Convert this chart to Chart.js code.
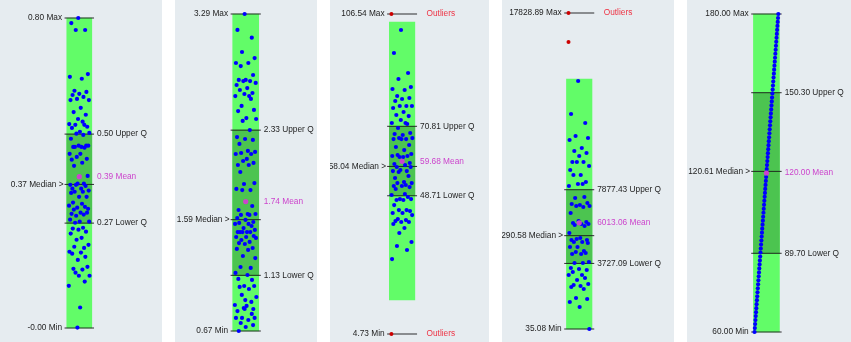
<!DOCTYPE html>
<html>
<head>
<meta charset="utf-8">
<script src="https://cdn.jsdelivr.net/npm/chart.js@4/dist/chart.umd.min.js"></script>
<style>
    body { margin: 0; background: #ffffff; }
    #row { position: relative; width: 851px; height: 342px; overflow: hidden; }
    .panel { position: absolute; top: 0; height: 342px; background: #e6ecf0; }
    .panel canvas { display: block; }
</style>
</head>
<body>
<div id="row"></div>
<script>
// Summary values of the five distributions
const maxValues    = [0.80, 3.29, 106.54, 17828.89, 180.00];
const upperQValues = [0.50, 2.33, 70.81, 7877.43, 150.30];
const medianValues = [0.37, 1.59, 58.04, 5290.58, 120.61];
const lowerQValues = [0.27, 1.13, 48.71, 3727.09, 89.70];
const minValues    = [-0.001, 0.67, 4.73, 35.08, 60.00];
const meanValues   = [0.39, 1.74, 59.68, 6013.06, 120.00];
const outlierValues = [[], [], [106.54, 4.73], [17828.89, 16196], []];

const valuesA = [0.80, 0.787, 0.769, 0.769, 0.655, 0.648, 0.643, 0.612, 0.609, 0.604, 0.601, 0.596, 0.591, 0.588, 0.588,
    0.568, 0.557, 0.550, 0.539, 0.532, 0.526, 0.524, 0.524, 0.519, 0.516, 0.506, 0.503, 0.501, 0.498, 0.488,
    0.470, 0.470, 0.467, 0.467, 0.470, 0.467, 0.465, 0.449, 0.449, 0.441, 0.436, 0.434, 0.426, 0.418, 0.392,
    0.372, 0.369, 0.372, 0.369, 0.366, 0.359, 0.359, 0.354, 0.351, 0.351, 0.348, 0.338, 0.338, 0.323, 0.320,
    0.315, 0.312, 0.310, 0.307, 0.305, 0.297, 0.294, 0.292, 0.289, 0.297, 0.279, 0.274, 0.274, 0.271, 0.258,
    0.256, 0.253, 0.248, 0.243, 0.232, 0.227, 0.214, 0.209, 0.206, 0.196, 0.194, 0.191, 0.183, 0.175, 0.157,
    0.152, 0.150, 0.142, 0.134, 0.134, 0.119, 0.108, 0.052, 0.00];
const valuesB = [3.29, 3.158, 3.094, 2.976, 2.926, 2.885, 2.885, 2.860, 2.786, 2.745, 2.745, 2.736, 2.736, 2.720, 2.703,
    2.678, 2.662, 2.637, 2.629, 2.612, 2.612, 2.588, 2.530, 2.497, 2.488, 2.430, 2.422, 2.406, 2.331, 2.273,
    2.257, 2.249, 2.216, 2.158, 2.150, 2.141, 2.133, 2.133, 2.092, 2.075, 2.059, 2.042, 2.042, 1.984, 1.893,
    1.885, 1.844, 1.835, 1.835, 1.703, 1.670, 1.637, 1.637, 1.629, 1.629, 1.604, 1.588, 1.571, 1.563, 1.555,
    1.555, 1.538, 1.521, 1.505, 1.488, 1.488, 1.488, 1.488, 1.488, 1.455, 1.447, 1.447, 1.439, 1.422, 1.406,
    1.397, 1.389, 1.356, 1.348, 1.340, 1.290, 1.273, 1.199, 1.191, 1.150, 1.133, 1.100, 1.092, 1.042, 1.042,
    1.034, 1.017, 0.968, 0.951, 0.926, 0.910, 0.885, 0.877, 0.860, 0.852, 0.852, 0.835, 0.811, 0.778, 0.778,
    0.778, 0.761, 0.736, 0.719, 0.703, 0.67];
const valuesC = [101.45, 94.13, 87.77, 85.86, 83.31, 82.68, 82.36, 80.45, 79.81, 79.49, 78.86, 77.27, 77.27, 77.27, 76.63,
    75.36, 74.40, 74.08, 72.81, 71.86, 71.86, 71.54, 70.27, 68.68, 68.36, 68.04, 67.08, 67.08, 66.76, 66.76,
    66.76, 64.86, 64.22, 63.26, 62.00, 61.68, 61.36, 61.36, 61.04, 61.04, 59.13, 58.81, 58.49, 57.86, 57.86,
    56.90, 56.58, 56.58, 56.27, 55.00, 54.36, 53.08, 52.76, 52.76, 52.13, 51.81, 51.81, 51.49, 50.86, 49.27,
    48.95, 48.31, 47.67, 47.67, 47.36, 47.36, 45.76, 44.17, 44.17, 43.85, 43.22, 43.22, 42.58, 41.31, 40.99,
    40.67, 40.36, 40.36, 39.72, 38.45, 36.86, 34.00, 32.72, 31.45, 28.58];
const valuesD = [14000, 12141, 11635, 10902, 10790, 10677, 10227, 10058, 9945, 9776, 9438, 9438, 9438, 9214, 8988,
    8707, 8707, 8312, 8200, 8200, 8087, 7468, 7411, 7130, 7073, 7017, 6961, 6961, 6905, 6567,
    6116, 6060, 6004, 5948, 5948, 5891, 5835, 5441, 5159, 5103, 5046, 5046, 4934, 4934, 4877,
    4652, 4652, 4427, 4371, 4314, 4258, 4258, 3808, 3752, 3752, 3469, 3413, 3357, 3244, 3075,
    3075, 2906, 2793, 2568, 2512, 2456, 2399, 2287, 1780, 1724, 1555, 1274, 35.08];
const valuesE = [60.0, 61.5, 63.0, 64.5, 66.0, 67.5, 69.0, 70.5, 72.0, 73.5, 75.0, 76.5, 78.0, 79.5, 81.0, 82.5,
    84.0, 85.5, 87.0, 88.5, 90.0, 91.5, 93.0, 94.5, 96.0, 97.5, 99.0, 100.5, 102.0, 103.5, 105.0, 106.5,
    108.0, 109.5, 111.0, 112.5, 114.0, 115.5, 117.0, 118.5, 120.0, 121.5, 123.0, 124.5, 126.0, 127.5, 129.0,
    130.5, 132.0, 133.5, 135.0, 136.5, 138.0, 139.5, 141.0, 142.5, 144.0, 145.5, 147.0, 148.5, 150.0, 151.5,
    153.0, 154.5, 156.0, 157.5, 159.0, 160.5, 162.0, 163.5, 165.0, 166.5, 168.0, 169.5, 171.0, 172.5, 174.0,
    175.5, 177.0, 178.5, 180.0];
const observations = [valuesA, valuesB, valuesC, valuesD, valuesE];

// horizontal scatter of the dots inside the bar (0 = left edge, 1 = right edge)
const jitter = [0.45, 0.12, 0.78, 0.33, 0.91, 0.05, 0.62, 0.27, 0.84, 0.50, 0.18, 0.70, 0.39, 0.96, 0.08, 0.57, 0.23,
    0.81, 0.44, 0.66, 0.02, 0.74, 0.31, 0.88, 0.15, 0.53, 0.98, 0.36, 0.69, 0.10, 0.47, 0.83, 0.21, 0.60, 0.93,
    0.29, 0.75, 0.04, 0.55, 0.38, 0.86, 0.14, 0.64, 0.25, 0.90, 0.42, 0.07, 0.72, 0.34, 0.80, 0.17, 0.59, 0.95,
    0.28, 0.67, 0.11, 0.49, 0.85, 0.20, 0.63, 0.01, 0.77, 0.40, 0.92, 0.24, 0.56, 0.13, 0.71, 0.35, 0.87, 0.06,
    0.52, 0.97, 0.30, 0.68, 0.19, 0.46, 0.82, 0.09, 0.61, 0.37, 0.94, 0.26, 0.73, 0.03, 0.58, 0.16, 0.79, 0.43,
    0.89, 0.22, 0.65, 0.32, 0.99, 0.48, 0.76, 0.00, 0.54, 0.41, 0.85];

// Layout of the panels (pixels)
const panels = [
    { left: 0,   width: 162, center: 79.2, bar: 25,   padTop: 18, padBottom: 14, spread: 'jitter' },
    { left: 175, width: 142, center: 70.7, bar: 26,   padTop: 14, padBottom: 11, spread: 'jitter' },
    { left: 330, width: 159, center: 71.7, bar: 25.5, padTop: 14, padBottom: 8,  spread: 'jitter' },
    { left: 502, width: 172, center: 76.8, bar: 25.5, padTop: 13, padBottom: 13, spread: 'jitter' },
    { left: 687, width: 164, center: 79.3, bar: 26,   padTop: 14, padBottom: 10, spread: 'rank' }
];

const FONT = '8.3px "Liberation Sans", Arial, sans-serif';
const TEXT = '#1e1e1e';
const MEAN = '#cc44cc';
const RED = '#ee3344';

function fences(i) {
    const iqr = upperQValues[i] - lowerQValues[i];
    return {
        hi: Math.min(maxValues[i], upperQValues[i] + 1.5 * iqr),
        lo: Math.max(minValues[i], lowerQValues[i] - 1.5 * iqr)
    };
}

const statLabelPlugin = {
    id: 'statLabels',
    afterDatasetsDraw(chart, args, opts) {
        const i = opts.panel;
        const p = panels[i];
        const xs = chart.scales.x;
        const ys = chart.scales.y;
        const ctx = chart.ctx;
        const lineL = xs.getPixelForValue(p.center - p.bar / 2 - 3);
        const lineR = xs.getPixelForValue(p.center + p.bar / 2 + 3);
        const f = fences(i);

        ctx.save();
        ctx.font = FONT;
        ctx.textBaseline = 'middle';

        ctx.fillStyle = TEXT;
        ctx.textAlign = 'right';
        ctx.fillText(maxValues[i].toFixed(2) + ' Max', lineL - 2.5, ys.getPixelForValue(maxValues[i]));
        ctx.fillText(medianValues[i].toFixed(2) + ' Median >', lineL - 1, ys.getPixelForValue(medianValues[i]));
        ctx.fillText(minValues[i].toFixed(2) + ' Min', lineL - 2.5, ys.getPixelForValue(minValues[i]));

        ctx.textAlign = 'left';
        ctx.fillText(upperQValues[i].toFixed(2) + ' Upper Q', lineR + 3, ys.getPixelForValue(upperQValues[i]));
        ctx.fillText(lowerQValues[i].toFixed(2) + ' Lower Q', lineR + 3, ys.getPixelForValue(lowerQValues[i]));
        ctx.fillStyle = MEAN;
        ctx.fillText(meanValues[i].toFixed(2) + ' Mean', lineR + 3, ys.getPixelForValue(meanValues[i]));

        ctx.fillStyle = RED;
        if (maxValues[i] > f.hi) ctx.fillText('Outliers', lineR + 9.5, ys.getPixelForValue(maxValues[i]));
        if (minValues[i] < f.lo) ctx.fillText('Outliers', lineR + 9.5, ys.getPixelForValue(minValues[i]));
        ctx.restore();
    }
};

const row = document.getElementById('row');

panels.forEach((p, i) => {
    const wrap = document.createElement('div');
    wrap.className = 'panel';
    wrap.style.left = p.left + 'px';
    wrap.style.width = p.width + 'px';
    const canvas = document.createElement('canvas');
    canvas.width = p.width;
    canvas.height = 342;
    wrap.appendChild(canvas);
    row.appendChild(wrap);

    const f = fences(i);
    const x0 = p.center - p.bar / 2 - 3;
    const x1 = p.center + p.bar / 2 + 3;
    const stats = [maxValues[i], upperQValues[i], medianValues[i], lowerQValues[i], minValues[i]];

    const lineSets = stats.map(v => ({
        type: 'line',
        data: [{ x: x0, y: v }, { x: x1, y: v }],
        borderColor: 'rgba(25,25,25,0.9)',
        borderWidth: 1,
        pointRadius: 0,
        clip: false,
        order: 5
    }));

    const vals = observations[i];
    const points = vals.map((v, k) => {
        const t = p.spread === 'rank' ? k / (vals.length - 1) : jitter[k % jitter.length];
        const w = p.spread === 'rank' ? p.bar - 1 : p.bar - 3;
        return { x: p.center - w / 2 + t * w, y: v };
    });

    new Chart(canvas, {
        type: 'scatter',
        data: {
            datasets: [
                {
                    type: 'bar',
                    data: [{ x: p.center, y: [f.lo, f.hi] }],
                    backgroundColor: '#62fc68',
                    barThickness: p.bar,
                    stack: 'box',
                    clip: false,
                    order: 10
                },
                {
                    type: 'bar',
                    data: [{ x: p.center, y: [lowerQValues[i], upperQValues[i]] }],
                    backgroundColor: '#4cc450',
                    barThickness: p.bar,
                    stack: 'box',
                    clip: false,
                    order: 9
                },
                ...lineSets,
                {
                    data: points,
                    backgroundColor: '#0000ff',
                    borderWidth: 0,
                    pointRadius: 2.1,
                    clip: false,
                    order: 2
                },
                {
                    data: outlierValues[i].map(v => ({ x: p.center - p.bar / 2 + 1.5, y: v })),
                    backgroundColor: '#cc0000',
                    borderWidth: 0,
                    pointRadius: 2,
                    clip: false,
                    order: 1
                },
                {
                    data: [{ x: p.center, y: meanValues[i] }],
                    backgroundColor: MEAN,
                    borderWidth: 0,
                    pointRadius: 2.6,
                    clip: false,
                    order: 0
                }
            ]
        },
        options: {
            responsive: false,
            animation: false,
            events: [],
            layout: { padding: { top: p.padTop, bottom: p.padBottom, left: 0, right: 0 } },
            scales: {
                x: { type: 'linear', min: 0, max: p.width, display: false, offset: false },
                y: { type: 'linear', min: minValues[i], max: maxValues[i], display: false, stacked: false }
            },
            plugins: {
                legend: { display: false },
                tooltip: { enabled: false },
                statLabels: { panel: i }
            }
        },
        plugins: [statLabelPlugin]
    });
});
</script>
</body>
</html>
